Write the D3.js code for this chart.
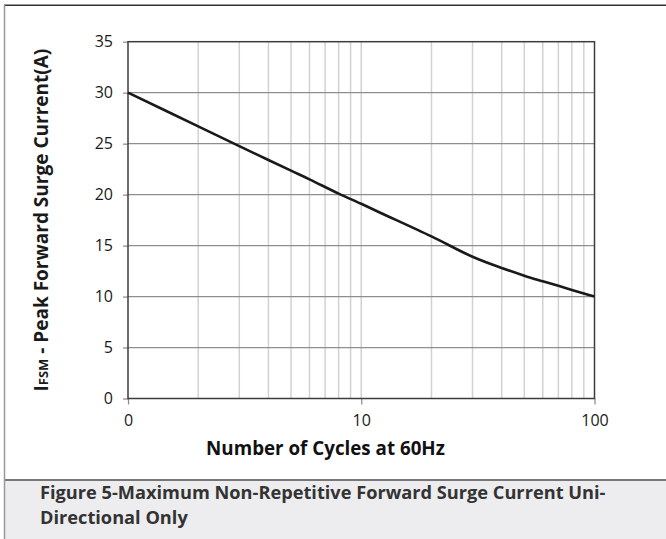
<!DOCTYPE html>
<html>
<head>
<meta charset="utf-8">
<script src="https://cdn.jsdelivr.net/npm/d3@7"></script>
<style>
  html, body { margin: 0; padding: 0; background: #fff; }
  svg { display: block; font-family: 'Open Sans', 'Noto Sans', sans-serif; }
</style>
</head>
<body>
<div id="chart"></div>
<script>
// data
const cycles = [1, 2, 3, 4, 5, 6, 8, 10, 12, 20, 30, 40, 50, 60, 70, 80, 90, 100];
const surgeAmps = [30, 26.7, 24.75, 23.4, 22.35, 21.5, 20.1, 19.1, 18.25, 15.9, 13.9, 12.8, 12.05, 11.5, 11.05, 10.65, 10.3, 10];
const xTickValues = [1, 10, 100];
const xTickLabels = ['0', '10', '100'];
const yTickValues = [0, 5, 10, 15, 20, 25, 30, 35];
const xGridValues = [2, 3, 4, 5, 6, 7, 8, 9, 10, 20, 30, 40, 50, 60, 70, 80, 90];
const captionLines = ['Figure 5-Maximum Non-Repetitive Forward Surge Current Uni-', 'Directional Only'];

const width = 666, height = 539;
const plot = { left: 128, right: 594.5, top: 41.7, bottom: 398.5 };

const svg = d3.select('#chart')
    .append('svg')
    .attr('width', width)
    .attr('height', height);

// shrink or grow a text to a width measured on the reference
function fitWidth(sel, target) {
    const node = sel.node();
    const fs = parseFloat(sel.attr('font-size'));
    const w = node.getComputedTextLength();
    if (w > 0) sel.attr('font-size', (fs * target / w).toFixed(2));
}

// caption panel
svg.append('rect')
    .attr('x', 5).attr('y', 480)
    .attr('width', width - 5).attr('height', height - 480)
    .attr('fill', '#ededef');
svg.append('line')
    .attr('x1', 5).attr('x2', width)
    .attr('y1', 480).attr('y2', 480)
    .attr('stroke', '#777').attr('stroke-width', 2);

// outer frame
svg.append('line')
    .attr('x1', 4).attr('x2', width)
    .attr('y1', 5.3).attr('y2', 5.3)
    .attr('stroke', '#333').attr('stroke-width', 1.5);
svg.append('line')
    .attr('x1', 4.5).attr('x2', 4.5)
    .attr('y1', 5).attr('y2', height)
    .attr('stroke', '#999').attr('stroke-width', 1.5);

const x = d3.scaleLog()
    .domain([1, 100])
    .range([plot.left, plot.right]);

const y = d3.scaleLinear()
    .domain([0, 35])
    .range([plot.bottom, plot.top]);

// vertical grid
svg.append('g')
    .selectAll('line')
    .data(xGridValues)
    .join('line')
    .attr('x1', d => x(d)).attr('x2', d => x(d))
    .attr('y1', plot.top).attr('y2', plot.bottom)
    .attr('stroke', '#d2d2d2')
    .attr('stroke-width', 1.5);

// horizontal grid
svg.append('g')
    .selectAll('line')
    .data(yTickValues.filter(d => d > 0 && d < 35))
    .join('line')
    .attr('x1', plot.left).attr('x2', plot.right)
    .attr('y1', d => y(d)).attr('y2', d => y(d))
    .attr('stroke', '#8e8e8e')
    .attr('stroke-width', 1.2);

// y axis
const yAxis = svg.append('g')
    .attr('transform', `translate(${plot.left},0)`)
    .call(d3.axisLeft(y).tickValues(yTickValues).tickSize(5).tickPadding(10));
yAxis.select('.domain').remove();
yAxis.selectAll('.tick line').attr('stroke', '#888').attr('stroke-width', 1.2);
yAxis.selectAll('.tick text')
    .attr('font-family', "'Open Sans', sans-serif")
    .attr('font-size', 16)
    .attr('fill', '#1a1a1a');

// x axis
const xAxis = svg.append('g')
    .attr('transform', `translate(0,${plot.bottom})`)
    .call(d3.axisBottom(x)
        .tickValues(xTickValues)
        .tickFormat((d, i) => xTickLabels[i])
        .tickSize(6)
        .tickPadding(10));
xAxis.select('.domain').remove();
xAxis.selectAll('.tick line').attr('stroke', '#888').attr('stroke-width', 1.2);
xAxis.selectAll('.tick text')
    .attr('font-family', "'Open Sans', sans-serif")
    .attr('font-size', 16)
    .attr('fill', '#1a1a1a');

// plot frame
svg.append('rect')
    .attr('x', plot.left).attr('y', plot.top)
    .attr('width', plot.right - plot.left)
    .attr('height', plot.bottom - plot.top)
    .attr('fill', 'none')
    .attr('stroke', '#3c3c3c')
    .attr('stroke-width', 1.5);

// curve
const line = d3.line()
    .curve(d3.curveCatmullRom.alpha(0.5))
    .x((d, i) => x(cycles[i]))
    .y(d => y(d));

svg.append('path')
    .attr('d', line(surgeAmps))
    .attr('fill', 'none')
    .attr('stroke', '#1a1a1a')
    .attr('stroke-width', 2.6);

// y title
const yTitle = svg.append('text')
    .attr('transform', `translate(48,${(plot.top + plot.bottom) / 2}) rotate(-90)`)
    .attr('text-anchor', 'middle')
    .attr('font-weight', 'bold')
    .attr('font-size', 17)
    .attr('fill', '#1a1a1a');
yTitle.append('tspan').text('I');
yTitle.append('tspan').attr('font-size', '0.68em').text('FSM');
yTitle.append('tspan').text(' - Peak Forward Surge Current(A)');
fitWidth(yTitle, 343);

// x title
const xTitle = svg.append('text')
    .attr('x', 325.5).attr('y', 455)
    .attr('text-anchor', 'middle')
    .attr('font-weight', 'bold')
    .attr('font-size', 17)
    .attr('fill', '#111')
    .text('Number of Cycles at 60Hz');
fitWidth(xTitle, 239);

// caption lines
const capFirst = svg.append('text')
    .attr('x', 40).attr('y', 499)
    .attr('font-weight', 'bold')
    .attr('font-size', 16)
    .attr('fill', '#333')
    .text(captionLines[0]);
fitWidth(capFirst, 566);
svg.append('text')
    .attr('x', 40).attr('y', 523.5)
    .attr('font-weight', 'bold')
    .attr('font-size', capFirst.attr('font-size'))
    .attr('fill', '#333')
    .text(captionLines[1]);
</script>
</body>
</html>
